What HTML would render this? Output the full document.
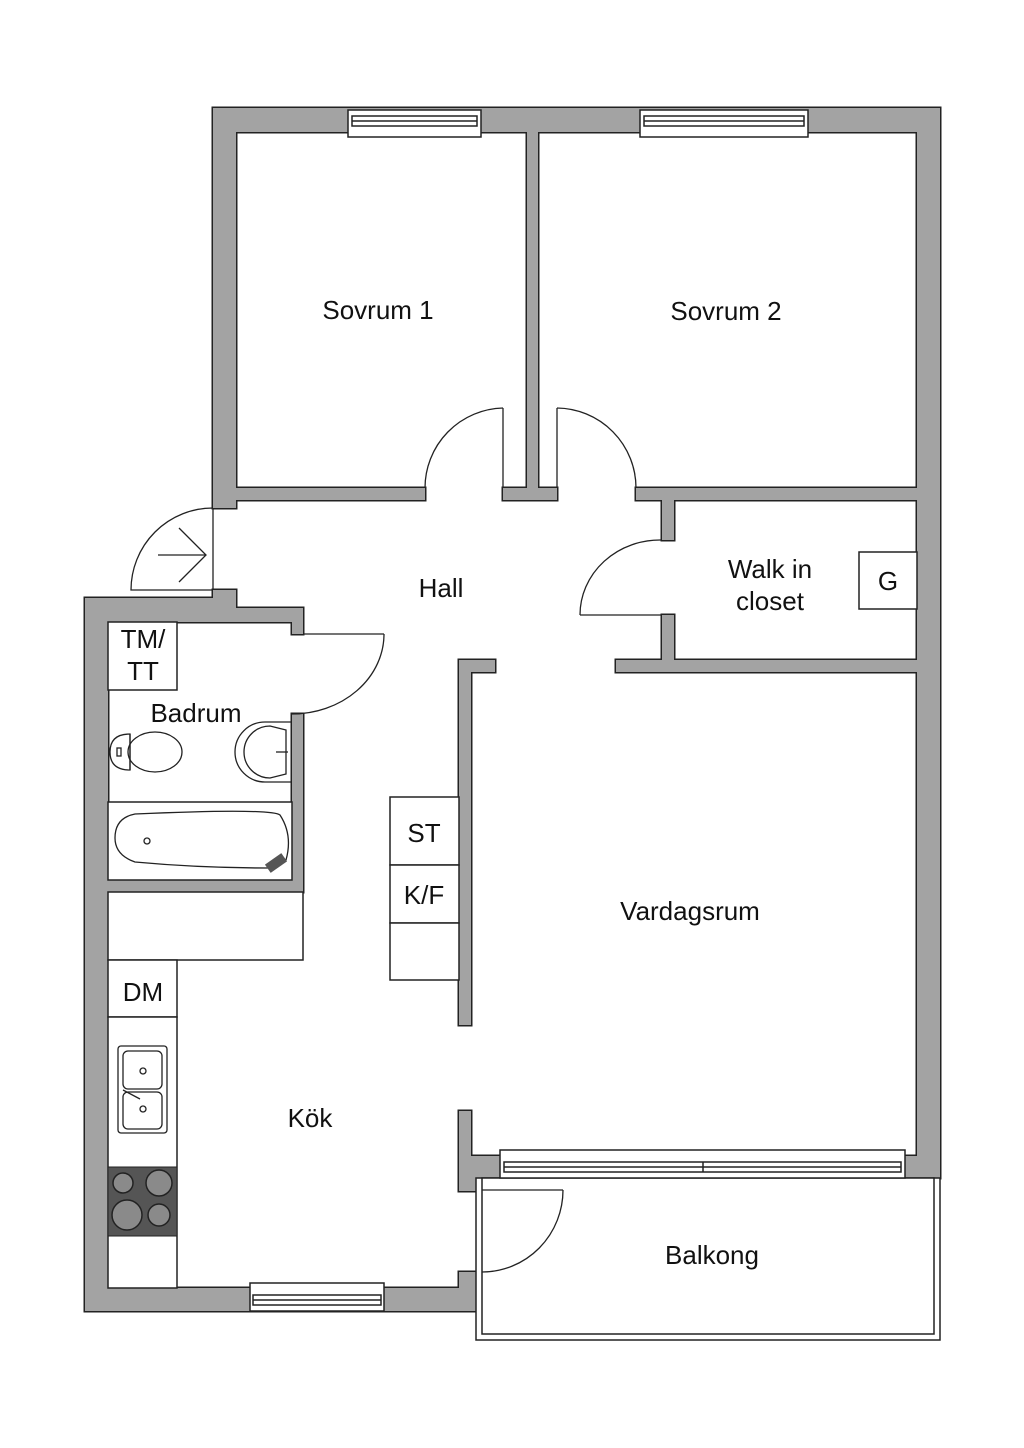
<!DOCTYPE html>
<html><head><meta charset="utf-8"><style>
html,body{margin:0;padding:0;background:#fff;}
svg{display:block;}
text{font-family:"Liberation Sans",sans-serif;font-size:26px;fill:#111;text-anchor:middle;}
</style></head><body>
<svg width="1024" height="1448" viewBox="0 0 1024 1448" xmlns="http://www.w3.org/2000/svg">
<defs>
<g id="walls">
<rect x="213" y="108" width="727" height="24"/>
<rect x="213" y="108" width="23" height="400"/>
<rect x="917" y="108" width="23" height="1070"/>
<rect x="527" y="132" width="11" height="368"/>
<rect x="236" y="488" width="189" height="12"/>
<rect x="503" y="488" width="54" height="12"/>
<rect x="636" y="488" width="281" height="12"/>
<rect x="662" y="500" width="12" height="40"/>
<rect x="662" y="615" width="12" height="57"/>
<rect x="616" y="660" width="301" height="12"/>
<rect x="213" y="590" width="23" height="32"/>
<rect x="85" y="598" width="151" height="24"/>
<rect x="213" y="608" width="90" height="14"/>
<rect x="292" y="608" width="11" height="26"/>
<rect x="85" y="598" width="23" height="713"/>
<rect x="292" y="714" width="11" height="178"/>
<rect x="108" y="880" width="195" height="12"/>
<rect x="85" y="1288" width="396" height="23"/>
<rect x="459" y="1272" width="22" height="39"/>
<rect x="459" y="660" width="12" height="365"/>
<rect x="459" y="660" width="36" height="12"/>
<rect x="459" y="1111" width="12" height="80"/>
<rect x="459" y="1156" width="41" height="22"/>
<rect x="459" y="1156" width="23" height="35"/>
<rect x="905" y="1156" width="35" height="22"/>
</g>
</defs>
<g fill="#222" stroke="#222" stroke-width="3"><use href="#walls"/></g>
<g fill="#a3a3a3"><use href="#walls"/></g>

<g fill="#fff" stroke="#222" stroke-width="1.5">
<!-- top windows -->
<rect x="348" y="110" width="133" height="27"/>
<rect x="352" y="116" width="125" height="10"/>
<line x1="352" y1="121" x2="477" y2="121"/>
<rect x="640" y="110" width="168" height="27"/>
<rect x="644" y="116" width="160" height="10"/>
<line x1="644" y1="121" x2="804" y2="121"/>
<!-- bottom kitchen window -->
<rect x="250" y="1283" width="134" height="28"/>
<rect x="253" y="1295" width="128" height="10"/>
<line x1="253" y1="1300" x2="381" y2="1300"/>
<!-- balcony -->
<rect x="476" y="1178" width="464" height="162"/>
<rect x="482" y="1178" width="452" height="156"/>
<rect x="500" y="1150" width="405" height="28"/>
<rect x="504" y="1162" width="397" height="10"/>
<line x1="504" y1="1167" x2="901" y2="1167"/>
<line x1="703" y1="1162" x2="703" y2="1172"/>
<!-- boxes -->
<rect x="859" y="552" width="58" height="57"/>
<rect x="108" y="622" width="69" height="68"/>
<rect x="108" y="802" width="184" height="78"/>
<rect x="108" y="892" width="195" height="68"/>
<rect x="108" y="960" width="69" height="57"/>
<rect x="108" y="1017" width="69" height="271"/>
<rect x="390" y="797" width="69" height="68"/>
<rect x="390" y="865" width="69" height="58"/>
<rect x="390" y="923" width="69" height="57"/>
</g>

<g fill="none" stroke="#222" stroke-width="1.3">
<!-- bedroom doors -->
<line x1="503" y1="408" x2="503" y2="488"/>
<path d="M503 408 A80 80 0 0 0 425 488"/>
<line x1="557" y1="408" x2="557" y2="488"/>
<path d="M557 408 A80 80 0 0 1 636 488"/>
<!-- closet door -->
<line x1="662" y1="615" x2="580" y2="615"/>
<path d="M662 540 A80 75 0 0 0 580 615"/>
<!-- entrance -->
<line x1="213" y1="508" x2="213" y2="590"/>
<path d="M213 508 A82 82 0 0 0 131 590 L213 590"/>
<line x1="158" y1="555" x2="205" y2="555"/>
<path d="M179 528 L206 555 L179 582"/>
<!-- bath door -->
<line x1="303" y1="634" x2="384" y2="634"/>
<path d="M384 634 A92 80 0 0 1 292 714"/>
<!-- balcony door -->
<line x1="482" y1="1190" x2="563" y2="1190"/>
<path d="M563 1190 A81 82 0 0 1 482 1272"/>
<!-- toilet -->
<path d="M130 734 Q110 734 110 752 Q110 770 130 770 Z"/>
<ellipse cx="155" cy="752" rx="27" ry="20"/>
<line x1="130" y1="734" x2="130" y2="770"/>
<rect x="117" y="748" width="4" height="8"/>
<!-- sink -->
<path d="M292 722 L265 722 A30 30 0 0 0 265 782 L292 782"/>
<path d="M286 730 L270 726 A26 26 0 0 0 270 778 L286 774 Z"/>
<line x1="276" y1="752" x2="288" y2="752"/>
<!-- bathtub -->
<path d="M135 814 Q270 808 280 815 Q293 835 286 860 Q276 870 270 868 Q200 868 135 862 Q115 855 115 838 Q115 818 135 814 Z"/>
<circle cx="147" cy="841" r="3"/>
<!-- kitchen sink -->
<rect x="118" y="1046" width="49" height="87" rx="3"/>
<rect x="123" y="1051" width="39" height="38" rx="5"/>
<rect x="123" y="1092" width="39" height="37" rx="5"/>
<circle cx="143" cy="1071" r="3"/>
<circle cx="143" cy="1109" r="3"/>
<line x1="123" y1="1090" x2="140" y2="1099"/>
</g>
<!-- stove -->
<rect x="108" y="1167" width="69" height="69" fill="#555" stroke="#222"/>
<g stroke="#222" stroke-width="1.5" fill="#8a8a8a">
<circle cx="123" cy="1183" r="10"/><circle cx="159" cy="1183" r="13"/>
<circle cx="127" cy="1215" r="15"/><circle cx="159" cy="1215" r="11"/>
</g>
<rect x="266" y="858" width="20" height="10" fill="#555" transform="rotate(-35 276 863)"/>

<text x="378" y="319">Sovrum 1</text>
<text x="726" y="320">Sovrum 2</text>
<text x="441" y="597">Hall</text>
<text x="770" y="578">Walk in</text>
<text x="770" y="610">closet</text>
<text x="888" y="590">G</text>
<text x="143" y="648">TM/</text>
<text x="143" y="680">TT</text>
<text x="196" y="722">Badrum</text>
<text x="424" y="842">ST</text>
<text x="424" y="904">K/F</text>
<text x="690" y="920">Vardagsrum</text>
<text x="143" y="1001">DM</text>
<text x="310" y="1127">Kök</text>
<text x="712" y="1264">Balkong</text>
</svg>
</body></html>
